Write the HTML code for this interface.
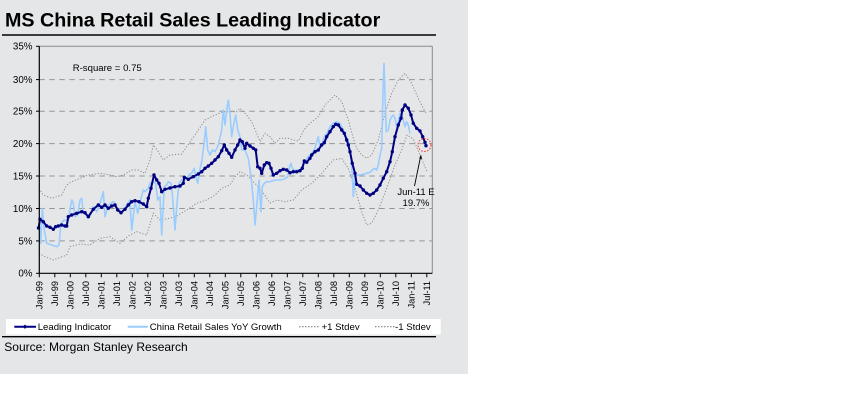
<!DOCTYPE html>
<html><head><meta charset="utf-8"><style>
html,body{margin:0;padding:0;background:#fff;}
body{width:843px;height:407px;overflow:hidden;position:relative;}
svg{position:absolute;left:0;top:0;}
text{font-family:"Liberation Sans",Arial,sans-serif;fill:#000;}
</style></head><body>
<svg width="843" height="407" viewBox="0 0 843 407" xmlns="http://www.w3.org/2000/svg">
<defs>
<marker id="m" markerWidth="4" markerHeight="4" refX="2" refY="2" markerUnits="userSpaceOnUse"><circle cx="2" cy="2" r="1.7" fill="#000080"/></marker>
</defs>
<rect x="0" y="0" width="468" height="374" fill="#e5e6e8"/>
<text x="5" y="26.7" font-size="19.7" font-weight="bold">MS China Retail Sales Leading Indicator</text>
<line x1="2" y1="35" x2="436" y2="35" stroke="#000" stroke-width="1.5"/>

<!-- plot frame -->
<line x1="39.3" y1="46.3" x2="432.3" y2="46.3" stroke="#8a8a8a" stroke-width="1"/>
<line x1="432.3" y1="46.3" x2="432.3" y2="273.3" stroke="#8a8a8a" stroke-width="1"/>
<g stroke="#959595" stroke-width="1" stroke-dasharray="5.5 4.5">
<line x1="39.3" y1="79.6" x2="432" y2="79.6"/>
<line x1="39.3" y1="111.2" x2="432" y2="111.2"/>
<line x1="39.3" y1="143.6" x2="432" y2="143.6"/>
<line x1="39.3" y1="176.0" x2="432" y2="176.0"/>
<line x1="39.3" y1="208.5" x2="432" y2="208.5"/>
<line x1="39.3" y1="240.9" x2="432" y2="240.9"/>
</g>
<g font-size="9.8" text-anchor="end">
<text x="32.5" y="49.7">35%</text>
<text x="32.5" y="83">30%</text>
<text x="32.5" y="114.6">25%</text>
<text x="32.5" y="147">20%</text>
<text x="32.5" y="179.4">15%</text>
<text x="32.5" y="211.9">10%</text>
<text x="32.5" y="244.3">5%</text>
<text x="32.5" y="276.7">0%</text>
</g>
<g stroke="#000" stroke-width="1">
<line x1="36" y1="46.3" x2="39.3" y2="46.3"/><line x1="36" y1="79.6" x2="39.3" y2="79.6"/><line x1="36" y1="111.2" x2="39.3" y2="111.2"/><line x1="36" y1="143.6" x2="39.3" y2="143.6"/><line x1="36" y1="176" x2="39.3" y2="176"/><line x1="36" y1="208.5" x2="39.3" y2="208.5"/><line x1="36" y1="240.9" x2="39.3" y2="240.9"/><line x1="36" y1="273.3" x2="39.3" y2="273.3"/>
</g>

<!-- bands -->
<g fill="none" stroke="#8c8c8c" stroke-width="1" stroke-dasharray="1.2 1.8">
<polyline points="39,188.3 43.3,195 51.7,198.3 61.7,195 66.7,185 71.7,181.7 80,178.3 88.3,175 100,173.3 110,175 116.7,176.7 123.3,175 131.7,170 138.3,170 145,173.3 150,160 153.3,145 158.3,151.7 163.3,160 170,155 181.7,154 186.7,146.7 195,135 205,120 215,115 223.3,111.7 236.7,111.7 240,108.3 246.7,115 251.7,121.7 256.7,133.3 260,141.7 265,133.3 270,136.7 275,143.3 280,138.3 288.3,138.3 293.3,140 298.3,141 304.3,129.3 310,123.3 318.3,116.7 325,105 335,95 341.7,101.7 348.3,120 353.3,138.3 356.7,148.3 361.7,155 366.7,158.3 371.7,155 378.3,140 385,113.3 391.7,93.3 398.3,80 405,73.3 411.7,83.3 418.3,98.3 423.3,108.3 426.7,114"/>
<polyline points="39,253.3 45,256.7 53.3,260 66.7,255 70,246.7 80,244 90,245 100,238.3 110,236.7 120,243.3 128.3,236 136.7,231.7 146.7,235 153.3,213.3 160,220 170,218.3 176.7,216 186.7,210 196.7,203.3 206.7,200 215,195 221.7,188.3 230,185 235,176.7 240,171.7 246.7,175 255,183.3 263.3,193 270,203 276.7,200 285,201.7 293.3,200 301.7,190 311.7,183.3 321.7,173.3 333.3,160 341.7,158.3 348.3,168.3 355,188.3 361.7,211.7 366.7,225 371.7,223.3 378.3,210 386.7,188.3 395,165 401.7,150 407,135 413.3,139 420,155 426.7,171"/>
</g>

<!-- retail sales -->
<polyline fill="none" stroke="#99ccff" stroke-width="1.6" stroke-linejoin="round" points="39,216.7 40.7,243.3 42.3,208.3 44.3,230 46.7,243.3 51.7,245 56.7,246.7 59,245 61,223.3 64.3,220 68.3,220 71.7,200 73.3,203 75,216.7 77.7,215 80,200 81.7,198.3 83.3,213.3 86.7,215 90,216.7 93.3,206.7 96.7,211.7 100,203.3 103.3,191.7 105,216.7 108.3,205 113.3,201.7 116.7,206.7 120,211.7 123.3,210 126.7,205 130,200 131.7,230 135,201.7 137.7,213.3 141,198.3 143.3,190 145,191.7 148.3,188.3 150,183.3 153.3,181.7 155.7,183.3 157.7,200 160,196.7 161.7,235 164.3,186.7 166.7,185 168.3,181.7 171,183.3 172.3,193.3 175,230 176.7,206.7 179,183.3 181.7,180 184.3,179.3 187.7,176.7 190,174 191.7,173.3 194.3,168.3 195.7,176.7 197.7,183.3 199.7,170 201.7,161.7 204.3,141.7 205.7,126.7 207.7,150 210,155 212.3,150 215,151.7 218.3,145 221.7,130 223.3,110 225,125 226.7,110 228.3,100 230,113.3 231.7,136.7 233.3,126.7 235.7,115 237.7,130 240,136.7 241.7,150 245,150 248.3,158.3 251,176.7 253.3,200 255,225 257.3,200 259,180 261,211.7 262.3,186.7 264.3,183.3 266.7,181.7 270,181.7 275,180 280,180 283.3,179.3 285.7,178.3 287.7,176.7 289,170 290,165 291,163.3 292.3,168.3 295,170.7 298.3,170 300,170 303.3,165 308.3,156.7 313.3,151.7 315,148.3 316.7,141.7 318.3,136.7 320,148.3 322.3,143.3 324.3,136.7 326.7,133.3 330,126.7 333.3,123.3 336.7,121.7 340,123.3 343.3,130 346.7,138.3 349,143.3 351,158.3 352.3,175 353.3,196.7 355,176.7 356.7,175 360,175 363.3,174.3 366.7,173.3 370,172.3 372.3,170 374.3,168.3 376.7,170 378.3,165 380,155 381.7,148.3 383,91.7 384,63.3 385,95 386.3,131.7 388.3,130 390,120 391.7,116.7 393.3,115 395,118.3 396.7,126.7 398.3,121.7 400,113.3 401.7,115 403.3,120 405,126.7 406.7,121.7 408.3,125 410,133.3"/>

<!-- leading indicator -->
<polyline fill="none" stroke="#000080" stroke-width="2" stroke-linejoin="round" marker-start="url(#m)" marker-mid="url(#m)" marker-end="url(#m)" points="38.5,228 40,219.3 43.3,221.7 46.7,226 50,227.3 53.3,229.3 55.7,226.7 58.3,226 61.7,225 65,226 66.7,226 68.3,216.7 71.7,215 76.7,213.3 81.7,211.7 85,212.7 88.3,216.7 93.3,209.3 98.3,205 101.7,207.3 105,205 108.3,208.3 111.7,206 115,205 117.7,210 121,212.7 125,209.3 128.3,205 131.7,201.7 135,200.7 139,201.7 143.3,204 146.7,206.7 148.3,198.3 151,188.3 154,175 156.7,180 159,183.3 161.7,191.7 165,189.3 170,188 175,186.7 180,186 183.3,183.3 184.3,177.3 188.3,179.3 193.3,176.7 198.3,174 201.7,171.7 205,168.3 208.3,166 211.7,163.3 215,160 218.3,156.7 221.7,150.7 224.3,145 226.7,150 229,153.3 231.7,157.3 235,150 237.7,145 240,140 242.3,141.7 245,148.3 246.7,143.3 250,146 253.3,148.3 255.7,150 257.7,166.7 260,168.3 261.7,173.3 264.3,165 266.7,162.7 269,163.3 271,168.3 273.3,175 276.7,173.3 280,170.7 283.3,169.3 286.7,170 290,172.7 293.3,171.7 296.7,171.7 300,170.7 302.3,168.3 304.3,161 306.7,162.3 310,158.3 311.7,155 315,151.7 318.3,150 321.7,145 324.3,142.7 326.7,136.7 330,131.7 333.3,126.7 335.7,124.3 338.3,125 341.7,130 344.3,133.3 346.7,140 348.3,145 350,151.7 352.3,163.3 355,173.3 356.7,184.3 360,186 363.3,190 366.7,193.3 370,195 373.3,193.3 376.7,190 380,185 383.3,178.3 386.7,171.7 390,161.7 392.3,151.7 395,136.7 398.3,125 401,118.3 402.3,110 405,105 408.3,108.3 411,115 413.3,123.3 416.7,128.3 420,131 422.7,136.7 425,142.3 426,145.7"/>

<!-- axes -->
<line x1="39.3" y1="46.3" x2="39.3" y2="273.8" stroke="#000" stroke-width="1.2"/>
<line x1="39.3" y1="273.3" x2="432.3" y2="273.3" stroke="#000" stroke-width="1.2"/>
<g stroke="#000" stroke-width="1">
<line x1="39.3" y1="273.3" x2="39.3" y2="277.3"/><line x1="54.8" y1="273.3" x2="54.8" y2="277.3"/><line x1="70.3" y1="273.3" x2="70.3" y2="277.3"/><line x1="85.8" y1="273.3" x2="85.8" y2="277.3"/><line x1="101.3" y1="273.3" x2="101.3" y2="277.3"/><line x1="116.8" y1="273.3" x2="116.8" y2="277.3"/><line x1="132.3" y1="273.3" x2="132.3" y2="277.3"/><line x1="147.8" y1="273.3" x2="147.8" y2="277.3"/><line x1="163.3" y1="273.3" x2="163.3" y2="277.3"/><line x1="178.8" y1="273.3" x2="178.8" y2="277.3"/><line x1="194.3" y1="273.3" x2="194.3" y2="277.3"/><line x1="209.8" y1="273.3" x2="209.8" y2="277.3"/><line x1="225.3" y1="273.3" x2="225.3" y2="277.3"/><line x1="240.8" y1="273.3" x2="240.8" y2="277.3"/><line x1="256.3" y1="273.3" x2="256.3" y2="277.3"/><line x1="271.8" y1="273.3" x2="271.8" y2="277.3"/><line x1="287.3" y1="273.3" x2="287.3" y2="277.3"/><line x1="302.8" y1="273.3" x2="302.8" y2="277.3"/><line x1="318.3" y1="273.3" x2="318.3" y2="277.3"/><line x1="333.8" y1="273.3" x2="333.8" y2="277.3"/><line x1="349.3" y1="273.3" x2="349.3" y2="277.3"/><line x1="364.8" y1="273.3" x2="364.8" y2="277.3"/><line x1="380.3" y1="273.3" x2="380.3" y2="277.3"/><line x1="395.8" y1="273.3" x2="395.8" y2="277.3"/><line x1="411.3" y1="273.3" x2="411.3" y2="277.3"/><line x1="426.8" y1="273.3" x2="426.8" y2="277.3"/>
</g>
<g font-size="9.2" text-anchor="end">
<text transform="translate(42.7,281) rotate(-90)">Jan-99</text>
<text transform="translate(58.2,281) rotate(-90)">Jul-99</text>
<text transform="translate(73.7,281) rotate(-90)">Jan-00</text>
<text transform="translate(89.2,281) rotate(-90)">Jul-00</text>
<text transform="translate(104.7,281) rotate(-90)">Jan-01</text>
<text transform="translate(120.2,281) rotate(-90)">Jul-01</text>
<text transform="translate(135.7,281) rotate(-90)">Jan-02</text>
<text transform="translate(151.2,281) rotate(-90)">Jul-02</text>
<text transform="translate(166.7,281) rotate(-90)">Jan-03</text>
<text transform="translate(182.2,281) rotate(-90)">Jul-03</text>
<text transform="translate(197.7,281) rotate(-90)">Jan-04</text>
<text transform="translate(213.2,281) rotate(-90)">Jul-04</text>
<text transform="translate(228.7,281) rotate(-90)">Jan-05</text>
<text transform="translate(244.2,281) rotate(-90)">Jul-05</text>
<text transform="translate(259.7,281) rotate(-90)">Jan-06</text>
<text transform="translate(275.2,281) rotate(-90)">Jul-06</text>
<text transform="translate(290.7,281) rotate(-90)">Jan-07</text>
<text transform="translate(306.2,281) rotate(-90)">Jul-07</text>
<text transform="translate(321.7,281) rotate(-90)">Jan-08</text>
<text transform="translate(337.2,281) rotate(-90)">Jul-08</text>
<text transform="translate(352.7,281) rotate(-90)">Jan-09</text>
<text transform="translate(368.2,281) rotate(-90)">Jul-09</text>
<text transform="translate(383.7,281) rotate(-90)">Jan-10</text>
<text transform="translate(399.2,281) rotate(-90)">Jul-10</text>
<text transform="translate(414.7,281) rotate(-90)">Jan-11</text>
<text transform="translate(430.2,281) rotate(-90)">Jul-11</text>
</g>

<!-- annotations -->
<text x="72.7" y="71" font-size="9.6">R-square = 0.75</text>
<circle cx="424.5" cy="145" r="6.5" fill="none" stroke="#ff3333" stroke-width="1" stroke-dasharray="1.5 1.5"/>
<line x1="414.5" y1="186" x2="420.5" y2="157" stroke="#000" stroke-width="0.9"/>
<polygon points="421,154.5 422,159 419.2,158.4" fill="#000"/>
<text x="416" y="195.2" font-size="9.5" text-anchor="middle">Jun-11 E</text>
<text x="416" y="206" font-size="9.5" text-anchor="middle">19.7%</text>

<!-- legend -->
<rect x="6" y="319" width="434.7" height="15.5" fill="#fff"/>
<line x1="14.3" y1="326.7" x2="36" y2="326.7" stroke="#000080" stroke-width="2"/>
<polygon points="25,324.5 27.2,326.7 25,328.9 22.8,326.7" fill="#000080"/>
<text x="37.7" y="330.2" font-size="9.6">Leading Indicator</text>
<line x1="127.7" y1="326.7" x2="147.7" y2="326.7" stroke="#99ccff" stroke-width="2"/>
<text x="149.7" y="330.2" font-size="9.6">China Retail Sales YoY Growth</text>
<line x1="299" y1="326.7" x2="320" y2="326.7" stroke="#808080" stroke-width="1.2" stroke-dasharray="1.5 1.5"/>
<text x="321.5" y="330.2" font-size="9.6">+1 Stdev</text>
<line x1="375" y1="326.7" x2="395" y2="326.7" stroke="#808080" stroke-width="1.2" stroke-dasharray="1.5 1.5"/>
<text x="395" y="330.2" font-size="9.6">-1 Stdev</text>
<line x1="2" y1="336.7" x2="436" y2="336.7" stroke="#000" stroke-width="1.3"/>
<text x="4.3" y="351" font-size="12">Source: Morgan Stanley Research</text>
</svg>
</body></html>
